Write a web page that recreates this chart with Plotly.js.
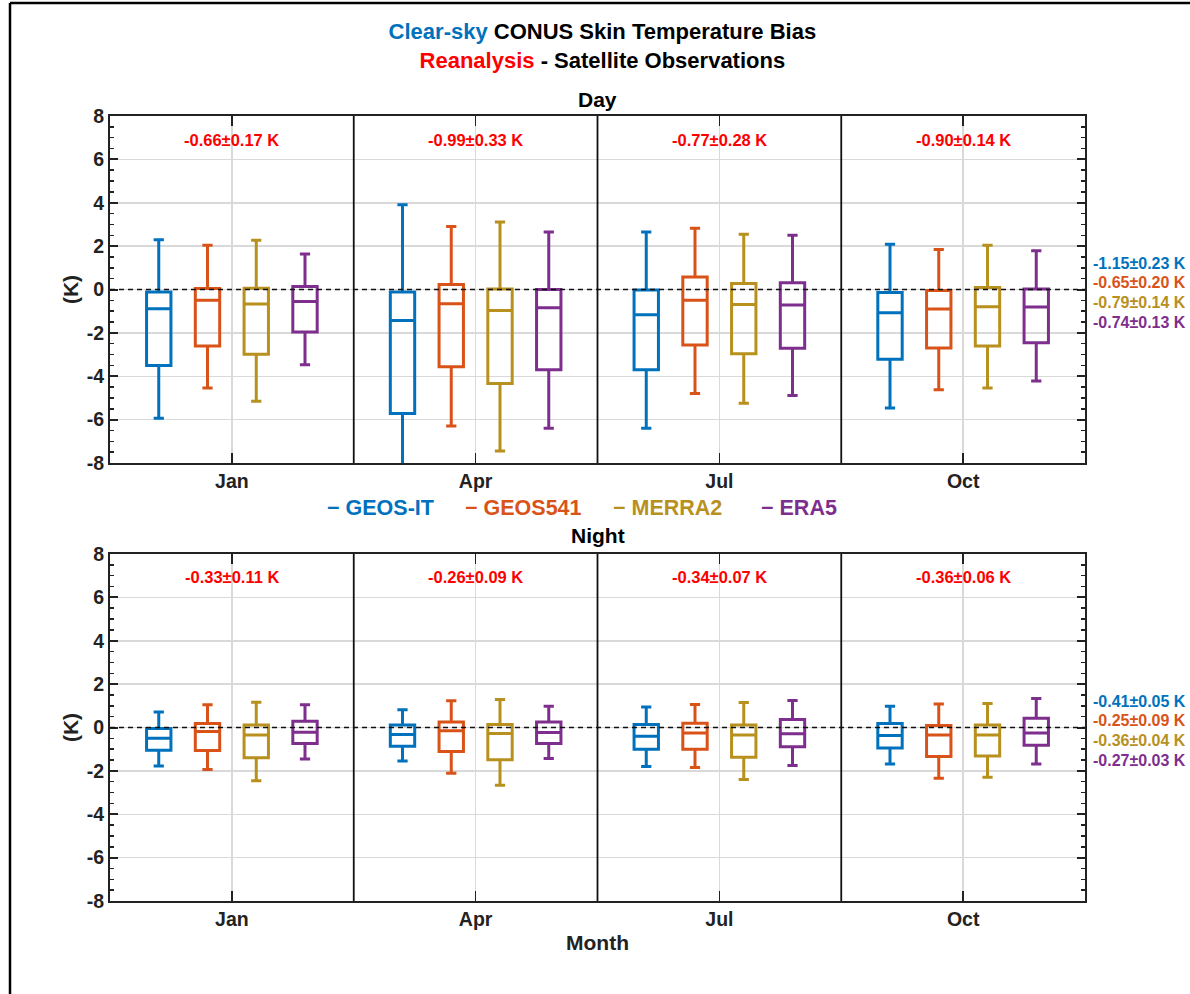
<!DOCTYPE html>
<html>
<head>
<meta charset="utf-8">
<script src="https://cdn.plot.ly/plotly-3.0.1.min.js"></script>
<style>html,body{margin:0;padding:0;background:#fff;}#chart{width:1190px;height:994px;}</style>
</head>
<body>
<div id="chart"></div>
<script>
// ---------- data ----------
const months = ['Jan', 'Apr', 'Jul', 'Oct'];
const seriesNames = ['GEOS-IT', 'GEOS541', 'MERRA2', 'ERA5'];
const seriesColors = ['#0072BD', '#D95319', '#B8901E', '#7E2F8E'];

// Day (rows = series in seriesNames order, columns = months)
const dayUpper  = [[2.29, 3.91, 2.65, 2.09], [2.04, 2.91, 2.82, 1.84], [2.27, 3.11, 2.55, 2.04], [1.64, 2.65, 2.50, 1.79]];
const dayQ3     = [[-0.12, -0.11, -0.02, -0.14], [0.05, 0.23, 0.58, -0.05], [0.06, 0.02, 0.28, 0.09], [0.14, 0.00, 0.31, 0.02]];
const dayMedian = [[-0.89, -1.43, -1.17, -1.07], [-0.49, -0.66, -0.49, -0.90], [-0.67, -0.97, -0.69, -0.80], [-0.55, -0.84, -0.72, -0.81]];
const dayQ1     = [[-3.50, -5.72, -3.70, -3.22], [-2.61, -3.56, -2.56, -2.70], [-2.98, -4.33, -2.96, -2.61], [-1.96, -3.70, -2.71, -2.45]];
const dayLower  = [[-5.94, -8.30, -6.40, -5.46], [-4.54, -6.29, -4.79, -4.62], [-5.15, -7.45, -5.25, -4.54], [-3.47, -6.40, -4.89, -4.22]];

// Night
const nightUpper  = [[0.72, 0.82, 0.95, 0.98], [1.05, 1.23, 1.06, 1.08], [1.17, 1.29, 1.15, 1.11], [1.05, 0.98, 1.25, 1.34]];
const nightQ3     = [[-0.05, 0.12, 0.14, 0.18], [0.18, 0.25, 0.20, 0.09], [0.11, 0.14, 0.12, 0.12], [0.29, 0.25, 0.37, 0.43]];
const nightMedian = [[-0.49, -0.32, -0.40, -0.37], [-0.18, -0.15, -0.25, -0.35], [-0.35, -0.28, -0.35, -0.35], [-0.22, -0.23, -0.29, -0.25]];
const nightQ1     = [[-1.05, -0.86, -1.00, -0.94], [-1.06, -1.11, -1.00, -1.34], [-1.40, -1.49, -1.37, -1.31], [-0.74, -0.74, -0.89, -0.82]];
const nightLower  = [[-1.78, -1.55, -1.80, -1.68], [-1.94, -2.11, -1.85, -2.34], [-2.46, -2.66, -2.40, -2.29], [-1.45, -1.43, -1.75, -1.68]];

// Text labels
const dayMonthMean   = ['-0.66±0.17 K', '-0.99±0.33 K', '-0.77±0.28 K', '-0.90±0.14 K'];
const nightMonthMean = ['-0.33±0.11 K', '-0.26±0.09 K', '-0.34±0.07 K', '-0.36±0.06 K'];
const daySeriesMean   = ['-1.15±0.23 K', '-0.65±0.20 K', '-0.79±0.14 K', '-0.74±0.13 K'];
const nightSeriesMean = ['-0.41±0.05 K', '-0.25±0.09 K', '-0.36±0.04 K', '-0.27±0.03 K'];
const yTicks = [-8, -6, -4, -2, 0, 2, 4, 6, 8];

// ---------- geometry helpers ----------
const W = 1190, H = 994;
const L = 110, R = 1085, T = 116, B = 901;
const px = x => (x - L) / (R - L);
const py = y => (B - y) / (B - T);
const FONT = 'Liberation Sans, Arial, Helvetica, sans-serif';

// ---------- traces ----------
const traces = [];
function addPanel(upper, q3, med, q1, lower, xa, ya) {
  seriesNames.forEach((name, i) => {
    traces.push({
      type: 'box', name: name, x: months,
      upperfence: upper[i], q3: q3[i], median: med[i], q1: q1[i], lowerfence: lower[i],
      xaxis: xa, yaxis: ya, offsetgroup: name,
      line: {color: seriesColors[i], width: 3},
      fillcolor: 'rgba(255,255,255,0)',
      whiskerwidth: 0.42, boxpoints: false, showlegend: false, hoverinfo: 'skip'
    });
  });
}
addPanel(dayUpper, dayQ3, dayMedian, dayQ1, dayLower, 'x', 'y');
addPanel(nightUpper, nightQ3, nightMedian, nightQ1, nightLower, 'x2', 'y2');

// ---------- axes ----------
function xAxis(anchor, withTitle) {
  const a = {
    type: 'category', categoryorder: 'array', categoryarray: months,
    range: [-0.5, 3.5], anchor: anchor,
    showline: true, linecolor: '#222', linewidth: 2, mirror: 'ticks',
    ticks: 'inside', ticklen: 10, tickwidth: 1.5, tickcolor: '#222',
    showgrid: true, gridcolor: '#d9d9d9', gridwidth: 1.5,
    zeroline: false, ticklabelstandoff: 0,
    tickfont: {family: FONT, size: 19.5, color: '#222', weight: 'bold'}
  };
  if (withTitle) a.title = {text: 'Month', font: {family: FONT, size: 21, color: '#222', weight: 'bold'}, standoff: 6};
  return a;
}
function yAxis(anchor, domain) {
  return {
    domain: domain, anchor: anchor, range: [-8, 8],
    tickvals: yTicks, ticktext: yTicks.map(String),
    showline: true, linecolor: '#222', linewidth: 2, mirror: 'ticks',
    ticks: 'inside', ticklen: 8, tickwidth: 2, tickcolor: '#222',
    minor: {dtick: 0.5, ticks: 'inside', ticklen: 4, tickwidth: 1.5, tickcolor: '#222', showgrid: false},
    showgrid: true, gridcolor: '#d9d9d9', gridwidth: 1.5, zeroline: false,
    tickfont: {family: FONT, size: 19.5, color: '#222', weight: 'bold'},
    title: {text: '(K)', font: {family: FONT, size: 21, color: '#222', weight: 'bold'}, standoff: 2}
  };
}

// ---------- shapes ----------
const shapes = [];
[['x', 'y'], ['x2', 'y2']].forEach(([xa, ya]) => {
  for (let k = 0; k < months.length - 1; k++) {
    shapes.push({type: 'line', xref: xa, yref: ya + ' domain', x0: k + 0.5, x1: k + 0.5, y0: 0, y1: 1,
      line: {color: '#111', width: 1.8}});
  }
  shapes.push({type: 'line', xref: xa + ' domain', yref: ya, x0: 0, x1: 1, y0: 0, y1: 0,
    line: {color: '#111', width: 1.5, dash: '5px,4px'}});
});
// outer frame
shapes.push({type: 'line', xref: 'paper', yref: 'paper', x0: px(10), x1: px(10), y0: py(3), y1: py(1000),
  line: {color: '#000', width: 2.5}});
shapes.push({type: 'line', xref: 'paper', yref: 'paper', x0: px(10), x1: px(1200), y0: py(3), y1: py(3),
  line: {color: '#000', width: 2.5}});

// ---------- annotations ----------
const annotations = [];
const boldRed = {family: FONT, size: 16.5, color: '#ff0000', weight: 'bold'};
months.forEach((m, k) => {
  annotations.push({xref: 'x', yref: 'y', x: k, y: 6.9, text: dayMonthMean[k], showarrow: false, font: boldRed});
  annotations.push({xref: 'x2', yref: 'y2', x: k, y: 6.95, text: nightMonthMean[k], showarrow: false, font: boldRed});
});
const sideY = [1.22, 0.3, -0.6, -1.52];
seriesNames.forEach((s, i) => {
  const f = {family: FONT, size: 16, color: seriesColors[i], weight: 'bold'};
  annotations.push({xref: 'paper', yref: 'y', x: px(1091), xanchor: 'left', y: sideY[i], text: daySeriesMean[i], showarrow: false, font: f});
  annotations.push({xref: 'paper', yref: 'y2', x: px(1091), xanchor: 'left', y: sideY[i], text: nightSeriesMean[i], showarrow: false, font: f});
});
// legend row
const legendX = [325, 463, 611, 759];
seriesNames.forEach((s, i) => {
  annotations.push({xref: 'paper', yref: 'paper', x: px(legendX[i]), xanchor: 'left', y: py(508), yanchor: 'middle',
    text: '− ' + s, showarrow: false,
    font: {family: FONT, size: 21.5, color: seriesColors[i], weight: 'bold'}});
});
// panel titles
const panelTitleFont = {family: FONT, size: 21, color: '#000', weight: 'bold'};
annotations.push({xref: 'paper', yref: 'paper', x: 0.5, y: py(99), yanchor: 'middle', text: 'Day', showarrow: false, font: panelTitleFont});
annotations.push({xref: 'paper', yref: 'paper', x: 0.5, y: py(535), yanchor: 'middle', text: 'Night', showarrow: false, font: panelTitleFont});

// ---------- layout ----------
const layout = {
  width: W, height: H,
  margin: {l: L, r: W - R, t: T, b: H - B, pad: 0},
  paper_bgcolor: '#fff', plot_bgcolor: '#fff',
  title: {
    text: '<span style="color:#0072BD">Clear-sky</span> CONUS Skin Temperature Bias<br><span style="color:#ff0000">Reanalysis</span> - Satellite Observations',
    font: {family: FONT, size: 22, color: '#000', weight: 'bold'},
    x: 0.505, xref: 'paper', xanchor: 'center', y: 1 - 39 / H, yref: 'container', yanchor: 'middle'
  },
  boxmode: 'group', boxgap: 0.2, boxgroupgap: 0.5,
  showlegend: false,
  xaxis: xAxis('y', false),
  yaxis: yAxis('x', [py(463), 1]),
  xaxis2: xAxis('y2', true),
  yaxis2: yAxis('x2', [0, py(554)]),
  shapes: shapes, annotations: annotations
};

Plotly.newPlot('chart', traces, layout, {displayModeBar: false, staticPlot: true});
</script>
</body>
</html>
